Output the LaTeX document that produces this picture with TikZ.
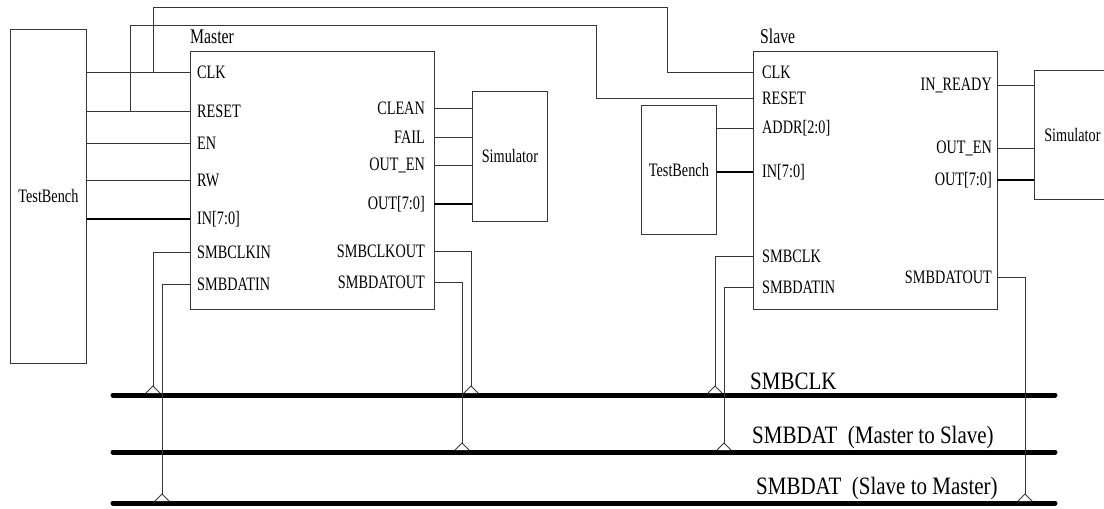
\documentclass[tikz,border=0pt]{standalone}
\usepackage{fontspec}
\setmainfont{Liberation Serif}[FakeStretch=0.75]
\newfontfamily\busfont{Liberation Serif}[FakeStretch=0.84]
\usetikzlibrary{positioning,calc}
\definecolor{WireGray}{RGB}{55,55,55}
\newcommand{\pinfont}{\fontsize{19}{21}\selectfont}
\newcommand{\bustap}[1]{\draw[tap] ($(#1)+(-7,7)$) -- (#1) -- ($(#1)+(7,7)$);}
\tikzset{
  blk/.style={draw=WireGray,line width=0.8pt,inner sep=0pt,anchor=north west,font=\pinfont},
  wire/.style={draw=WireGray,line width=0.8pt},
  bus8/.style={draw=black,line width=2.6pt},
  smbus/.style={draw=black,line width=5pt,line cap=round},
  tap/.style={draw=WireGray,line width=0.8pt,fill=white},
  pinL/.style={anchor=west,inner sep=0pt,xshift=7pt,font=\pinfont},
  pinR/.style={anchor=east,inner sep=0pt,xshift=-9pt,font=\pinfont},
  title/.style={anchor=base west,inner sep=0pt,font=\fontsize{21}{23}\selectfont},
  buslbl/.style={anchor=base west,inner sep=0pt,font=\busfont\fontsize{25}{28}\selectfont}
}

\begin{document}
\begin{tikzpicture}[x=1pt,y=-1pt]
  \useasboundingbox (0,0) rectangle (1104,509);

  % blocks
  \node[blk,minimum width=76pt,minimum height=334pt] (tbL) at (10,29) {TestBench};
  \node[blk,minimum width=244pt,minimum height=258pt] (master) at (190,51) {};
  \node[blk,minimum width=75pt,minimum height=130pt] (simM) at (472,91) {Simulator};
  \node[blk,minimum width=75pt,minimum height=129pt] (tbM) at (641,105) {TestBench};
  \node[blk,minimum width=244pt,minimum height=258pt] (slave) at (753,51) {};
  \node[blk,minimum width=76pt,minimum height=129pt] (simR) at (1034,70) {Simulator};
  \node[title] at (190,43) {Master};
  \node[title] at (760,43) {Slave};

  % pins
  \foreach \name/\txt/\y in {clk/CLK/72,rst/RESET/111,en/EN/143,rw/RW/180,in/{IN[7:0]}/219,sci/SMBCLKIN/252,sdi/SMBDATIN/284}{
    \coordinate (m-\name) at (190,\y);
    \node[pinL] at (m-\name) {\txt};
  }
  \foreach \name/\txt/\y in {clean/CLEAN/108,fail/FAIL/137,oen/OUT\_EN/165,out/{OUT[7:0]}/204,sco/SMBCLKOUT/251,sdo/SMBDATOUT/282}{
    \coordinate (m-\name) at (434,\y);
    \node[pinR] at (m-\name) {\txt};
  }
  \foreach \name/\txt/\y in {clk/CLK/72,rst/RESET/98,addr/{ADDR[2:0]}/128,in/{IN[7:0]}/172,sck/SMBCLK/256,sdi/SMBDATIN/287}{
    \coordinate (s-\name) at (753,\y);
    \node[pinL,xshift=2pt] at (s-\name) {\txt};
  }
  \foreach \name/\txt/\y in {rdy/IN\_READY/85,oen/OUT\_EN/148,out/{OUT[7:0]}/180,sdo/SMBDATOUT/277}{
    \coordinate (s-\name) at (997,\y);
    \node[pinR,xshift=4pt] at (s-\name) {\txt};
  }

  % point to point wires
  \foreach \name in {clk,rst,en,rw}
    \draw[wire] (tbL.east |- m-\name) -- (m-\name);
  \draw[bus8] (tbL.east |- m-in) -- (m-in);
  \foreach \name in {clean,fail,oen}
    \draw[wire] (m-\name) -- (simM.west |- m-\name);
  \draw[bus8] (m-out) -- (simM.west |- m-out);
  \draw[wire] (tbM.east |- s-addr) -- (s-addr);
  \draw[bus8] (tbM.east |- s-in) -- (s-in);
  \foreach \name in {rdy,oen}
    \draw[wire] (s-\name) -- (simR.west |- s-\name);
  \draw[bus8] (s-out) -- (simR.west |- s-out);

  % shared clock and reset
  \coordinate (clkjoin) at (153,72);
  \coordinate (clkup) at (667,7);
  \coordinate (rstjoin) at (130,111);
  \coordinate (rstup) at (596,25);
  \draw[wire] (clkjoin) |- (clkup) |- (s-clk);
  \draw[wire] (rstjoin) |- (rstup) |- (s-rst);

  % SMBus lines
  \coordinate (clkW) at (113,395);  \coordinate (clkE) at (1055,395);
  \coordinate (m2sW) at (113,452);  \coordinate (m2sE) at (1055,452);
  \coordinate (s2mW) at (113,503);  \coordinate (s2mE) at (1055,503);
  \draw[smbus] (clkW) -- (clkE);
  \draw[smbus] (m2sW) -- (m2sE);
  \draw[smbus] (s2mW) -- (s2mE);
  \node[buslbl] at (750,389) {SMBCLK};
  \node[buslbl] at (752,443) {SMBDAT~~(Master to Slave)};
  \node[buslbl] at (756,494) {SMBDAT~~(Slave to Master)};

  % taps onto the bus
  \coordinate (t1) at (153,386);
  \coordinate (t2) at (162,494);
  \coordinate (t3) at (471,386);
  \coordinate (t4) at (462,443);
  \coordinate (t5) at (715,386);
  \coordinate (t6) at (724,443);
  \coordinate (t7) at (1025,494);
  \draw[wire] (m-sci) -| (t1);
  \draw[wire] (m-sdi) -| (t2);
  \draw[wire] (m-sco) -| (t3);
  \draw[wire] (m-sdo) -| (t4);
  \draw[wire] (s-sck) -| (t5);
  \draw[wire] (s-sdi) -| (t6);
  \draw[wire] (s-sdo) -| (t7);
  \foreach \tp in {t1,t2,t3,t4,t5,t6,t7}{
    \bustap{\tp}
  }
\end{tikzpicture}
\end{document}
